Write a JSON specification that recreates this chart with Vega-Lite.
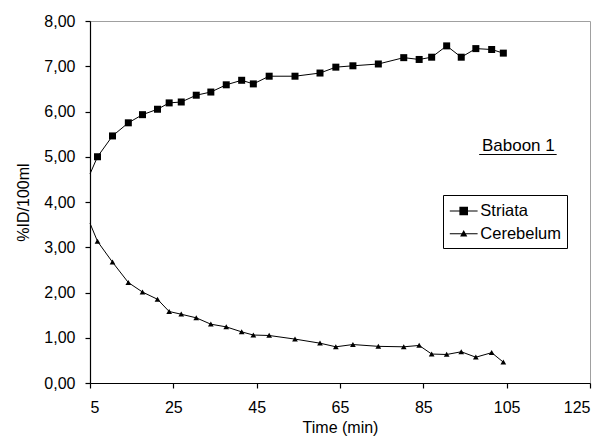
{
  "$schema": "https://vega.github.io/schema/vega-lite/v6.json",
  "width": 500,
  "height": 362,
  "autosize": "none",
  "padding": {"left": 90, "top": 21, "right": 15, "bottom": 56},
  "background": "white",
  "config": {
    "font": "Liberation Sans",
    "view": {"stroke": "#a0a0a0", "strokeWidth": 1},
    "axis": {"grid": false, "domainColor": "black", "tickColor": "black", "labelColor": "black", "titleColor": "black", "labelFont": "Liberation Sans", "titleFont": "Liberation Sans", "labelFontSize": 16, "titleFontSize": 16, "titleFontWeight": "normal", "tickSize": 5, "domainWidth": 1.2, "tickWidth": 1.2}
  },
  "datasets": {
    "series": [
      {"time": 5, "series": "Striata", "value": 4.62},
      {"time": 6.8, "series": "Striata", "value": 5.00},
      {"time": 10.4, "series": "Striata", "value": 5.46},
      {"time": 14.2, "series": "Striata", "value": 5.75},
      {"time": 17.6, "series": "Striata", "value": 5.93},
      {"time": 21.2, "series": "Striata", "value": 6.05},
      {"time": 24.0, "series": "Striata", "value": 6.19},
      {"time": 26.9, "series": "Striata", "value": 6.21},
      {"time": 30.5, "series": "Striata", "value": 6.36},
      {"time": 34.0, "series": "Striata", "value": 6.43},
      {"time": 37.7, "series": "Striata", "value": 6.59},
      {"time": 41.4, "series": "Striata", "value": 6.69},
      {"time": 44.2, "series": "Striata", "value": 6.61},
      {"time": 48.0, "series": "Striata", "value": 6.78},
      {"time": 54.2, "series": "Striata", "value": 6.78},
      {"time": 60.2, "series": "Striata", "value": 6.85},
      {"time": 64.0, "series": "Striata", "value": 6.98},
      {"time": 68.1, "series": "Striata", "value": 7.01},
      {"time": 74.2, "series": "Striata", "value": 7.05},
      {"time": 80.3, "series": "Striata", "value": 7.19},
      {"time": 84.0, "series": "Striata", "value": 7.15},
      {"time": 87.0, "series": "Striata", "value": 7.20},
      {"time": 90.6, "series": "Striata", "value": 7.45},
      {"time": 94.1, "series": "Striata", "value": 7.20},
      {"time": 97.6, "series": "Striata", "value": 7.39},
      {"time": 101.4, "series": "Striata", "value": 7.37},
      {"time": 104.2, "series": "Striata", "value": 7.29},
      {"time": 5, "series": "Cerebelum", "value": 3.53},
      {"time": 6.8, "series": "Cerebelum", "value": 3.13},
      {"time": 10.4, "series": "Cerebelum", "value": 2.67},
      {"time": 14.2, "series": "Cerebelum", "value": 2.22},
      {"time": 17.6, "series": "Cerebelum", "value": 2.01},
      {"time": 21.2, "series": "Cerebelum", "value": 1.85},
      {"time": 24.0, "series": "Cerebelum", "value": 1.58},
      {"time": 26.9, "series": "Cerebelum", "value": 1.52},
      {"time": 30.5, "series": "Cerebelum", "value": 1.44},
      {"time": 34.0, "series": "Cerebelum", "value": 1.30},
      {"time": 37.7, "series": "Cerebelum", "value": 1.24},
      {"time": 41.4, "series": "Cerebelum", "value": 1.13},
      {"time": 44.2, "series": "Cerebelum", "value": 1.06},
      {"time": 48.0, "series": "Cerebelum", "value": 1.05},
      {"time": 54.2, "series": "Cerebelum", "value": 0.97},
      {"time": 60.2, "series": "Cerebelum", "value": 0.88},
      {"time": 64.0, "series": "Cerebelum", "value": 0.80},
      {"time": 68.1, "series": "Cerebelum", "value": 0.85},
      {"time": 74.2, "series": "Cerebelum", "value": 0.81},
      {"time": 80.3, "series": "Cerebelum", "value": 0.80},
      {"time": 84.0, "series": "Cerebelum", "value": 0.83},
      {"time": 87.0, "series": "Cerebelum", "value": 0.64},
      {"time": 90.6, "series": "Cerebelum", "value": 0.63},
      {"time": 94.1, "series": "Cerebelum", "value": 0.69},
      {"time": 97.6, "series": "Cerebelum", "value": 0.57},
      {"time": 101.4, "series": "Cerebelum", "value": 0.67},
      {"time": 104.2, "series": "Cerebelum", "value": 0.46}
    ],
    "note": [{"label": "Baboon 1", "time": 107.8, "value": 5.13, "from": 98.4, "to": 117.0, "under": 5.05}]
  },
  "resolve": {"scale": {"shape": "independent"}},
  "layer": [
    {
      "data": {"name": "series"},
      "mark": {"type": "line", "color": "black", "strokeWidth": 1},
      "encoding": {
        "x": {"field": "time", "type": "quantitative", "scale": {"domain": [5, 125], "nice": false, "zero": false},
          "axis": {"title": "Time (min)", "values": [5, 25, 45, 65, 85, 105, 125], "labelPadding": 11, "titlePadding": 4}},
        "y": {"field": "value", "type": "quantitative", "scale": {"domain": [0, 8], "nice": false},
          "axis": {"title": "%ID/100ml", "values": [0, 1, 2, 3, 4, 5, 6, 7, 8], "labelExpr": "replace(format(datum.value, '.2f'), '.', ',')", "labelPadding": 10, "titlePadding": 12}},
        "detail": {"field": "series"}
      }
    },
    {
      "data": {"name": "series"},
      "transform": [{"filter": "datum.time > 5"}],
      "mark": {"type": "point", "filled": true, "color": "black", "opacity": 1, "size": 49},
      "encoding": {
        "x": {"field": "time", "type": "quantitative"},
        "y": {"field": "value", "type": "quantitative"},
        "shape": {"field": "series", "type": "nominal", "legend": null,
          "scale": {"domain": ["Striata", "Cerebelum"], "range": ["M-1,-1H1V1H-1Z", "M0,-0.75L0.82,0.68H-0.82Z"]}}
      }
    },
    {
      "data": {"name": "series"},
      "transform": [{"filter": "datum.time > 5"}],
      "mark": {"type": "point", "filled": true, "color": "black", "opacity": 0, "size": 49},
      "encoding": {
        "x": {"field": "time", "type": "quantitative"},
        "y": {"field": "value", "type": "quantitative"},
        "shape": {"field": "series", "type": "nominal", "title": null,
          "scale": {"domain": ["Striata", "Cerebelum"], "range": ["M-1.39,-0.055H1.39V0.055H-1.39ZM-0.43,-0.43H0.43V0.43H-0.43Z", "M-1.39,-0.055H1.39V0.055H-1.39ZM0,-0.36L0.36,0.27H-0.36Z"]},
          "legend": {"orient": "none", "legendX": 353, "legendY": 174, "direction": "vertical",
            "fillColor": "white", "strokeColor": "black", "padding": 5,
            "symbolSize": 400, "symbolOffset": 4.7, "symbolOpacity": 1, "symbolFillColor": "black", "labelOffset": 5.6, "labelFontSize": 16.5, "labelColor": "black", "labelFont": "Liberation Sans",
            "rowPadding": 2.7}}
      }
    },
    {
      "data": {"name": "note"},
      "mark": {"type": "text", "fontSize": 17, "align": "center", "baseline": "alphabetic", "color": "black", "font": "Liberation Sans"},
      "encoding": {"x": {"field": "time", "type": "quantitative"}, "y": {"field": "value", "type": "quantitative"}, "text": {"field": "label"}}
    },
    {
      "data": {"name": "note"},
      "mark": {"type": "rule", "color": "black", "strokeWidth": 1.2},
      "encoding": {"x": {"field": "from", "type": "quantitative"}, "x2": {"field": "to"}, "y": {"field": "under", "type": "quantitative"}}
    }
  ]
}
